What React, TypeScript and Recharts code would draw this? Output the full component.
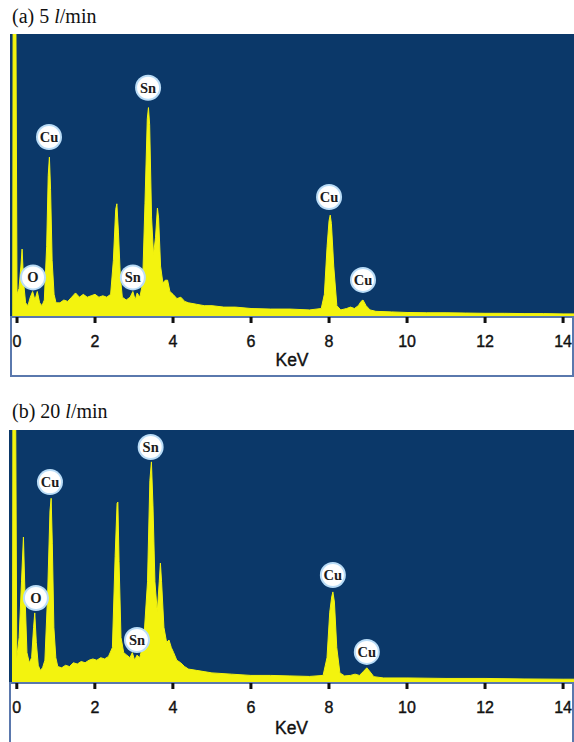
import React from "react";
import { AreaChart, Area, XAxis, YAxis, CartesianGrid, ReferenceDot } from "recharts";

const ticks = [0, 2, 4, 6, 8, 10, 12, 14];

// (a) 5 l/min spectrum, counts as % of plot height
const energyA = [
  -0.18, -0.11, -0.1, -0.03, 0.0, 0.05, 0.1, 0.13, 0.17, 0.22, 0.28, 0.34, 0.4, 0.46, 0.52, 0.58,
  0.64, 0.7, 0.76, 0.8, 0.83, 0.86, 0.9, 0.95, 1.0, 1.1, 1.2, 1.3, 1.4, 1.5, 1.6, 1.7, 1.8, 1.9,
  2.0, 2.1, 2.2, 2.3, 2.4, 2.47, 2.53, 2.56, 2.6, 2.65, 2.7, 2.8, 2.9, 2.97, 3.03, 3.08, 3.15,
  3.22, 3.28, 3.34, 3.37, 3.4, 3.45, 3.5, 3.55, 3.6, 3.63, 3.68, 3.74, 3.8, 3.86, 3.92, 4.0, 4.1,
  4.2, 4.3, 4.4, 4.6, 4.8, 5.0, 5.3, 5.6, 6.0, 6.5, 7.0, 7.5, 7.8, 7.88, 7.95, 8.0, 8.03, 8.06,
  8.12, 8.2, 8.3, 8.45, 8.55, 8.65, 8.75, 8.82, 8.87, 8.95, 9.05, 9.2, 9.6, 10, 10.5, 11, 11.5,
  12, 12.5, 13, 13.5, 14, 14.3,
];
const countsA = [
  0, 0, 110, 110, 8, 10, 18, 24, 12, 5, 4, 7, 9, 6, 9, 5,
  4, 6, 25, 50, 56.5, 45, 20, 8, 5, 5, 6, 5.5, 7, 8.5, 7, 8, 7, 7.5,
  8, 7, 7.5, 7, 8, 20, 38, 40, 30, 14, 7, 6, 7, 9, 6, 8.5, 7,
  12, 40, 70, 74, 68, 35, 22, 28, 38.5, 35, 18, 12, 13, 13, 9, 8, 6.5,
  7, 5.5, 5, 4.5, 4, 4, 3.5, 3.5, 3, 2.8, 2.8, 2.5, 3, 8, 25, 34, 36, 33,
  18, 4, 2.5, 3, 3.5, 3, 4, 5.5, 6, 4, 2.5, 2, 1.8, 1.6, 1.5, 1.5, 1.4,
  1.3, 1.3, 1.2, 1.2, 1.1, 1.1,
];

// (b) 20 l/min spectrum
const energyB = [
  -0.2, -0.11, -0.1, -0.03, 0.0, 0.06, 0.12, 0.17, 0.21, 0.26, 0.32, 0.38, 0.43, 0.46, 0.5, 0.55,
  0.6, 0.66, 0.72, 0.79, 0.85, 0.88, 0.91, 0.95, 1.0, 1.05, 1.15, 1.25, 1.35, 1.45, 1.55, 1.65,
  1.75, 1.85, 1.95, 2.05, 2.15, 2.25, 2.35, 2.45, 2.52, 2.57, 2.59, 2.62, 2.67, 2.74, 2.82, 2.9,
  2.96, 3.02, 3.08, 3.15, 3.25, 3.35, 3.41, 3.45, 3.49, 3.54, 3.6, 3.65, 3.68, 3.71, 3.77, 3.84,
  3.9, 3.96, 4.02, 4.1, 4.2, 4.3, 4.4, 4.6, 4.8, 5.0, 5.5, 6.0, 6.5, 7.0, 7.5, 7.85, 7.95, 8.02,
  8.07, 8.1, 8.14, 8.2, 8.28, 8.4, 8.55, 8.67, 8.78, 8.88, 8.97, 9.05, 9.15, 9.4, 10, 11, 12, 13,
  14, 14.3,
];
const countsB = [
  0, 0, 110, 110, 10, 18, 40, 57.7, 35, 12, 8, 10, 22, 27.7, 16, 7,
  5, 6, 9, 35, 68, 73, 55, 22, 10, 6.5, 6, 7, 6.5, 8, 7.5, 8.5,
  8, 9, 9.5, 9, 10, 9.5, 10.5, 14, 50, 71, 71.5, 48, 18, 12, 11, 10,
  12, 9, 11, 10, 16, 40, 80, 87.4, 70, 40, 28, 40, 47.4, 40, 22, 16,
  17, 14, 12, 9, 8, 6.5, 5.5, 5, 4.5, 4, 3.5, 3, 3, 2.8, 2.6, 3, 10, 28,
  34, 36, 32, 14, 4, 2.8, 3, 3.5, 3, 4.5, 6, 4.5, 2.5, 2, 2, 1.8, 1.8, 1.6,
  1.5, 1.5,
];

const labelsA = [
  { name: "O", keV: 0.41, y: 14 },
  { name: "Cu", keV: 0.82, y: 63.6 },
  { name: "Sn", keV: 2.97, y: 14 },
  { name: "Sn", keV: 3.36, y: 81 },
  { name: "Cu", keV: 8.0, y: 42.4 },
  { name: "Cu", keV: 8.87, y: 13.1 },
];
const labelsB = [
  { name: "O", keV: 0.49, y: 33.6 },
  { name: "Cu", keV: 0.85, y: 79.4 },
  { name: "Sn", keV: 3.08, y: 17 },
  { name: "Sn", keV: 3.43, y: 93.3 },
  { name: "Cu", keV: 8.1, y: 42.7 },
  { name: "Cu", keV: 8.97, y: 12.3 },
];

const toRows = (e: number[], c: number[]) => e.map((keV, i) => ({ keV, counts: c[i] }));
const dataA = toRows(energyA, countsA);
const dataB = toRows(energyB, countsB);

const BLUE = "#0b3869";
const YELLOW = "#f3f30e";
const FRAME = "#5a78ad";
const SANS = "Liberation Sans, Arial, sans-serif";

function Badge({ cx, cy, text }: { cx: number; cy: number; text: string }) {
  return (
    <g>
      <circle cx={cx} cy={cy} r={13} fill="#b9dcf7" />
      <circle cx={cx} cy={cy} r={11} fill="#ffffff" />
      <text
        x={cx}
        y={cy + 5}
        textAnchor="middle"
        fontFamily="Liberation Serif, serif"
        fontWeight="bold"
        fontSize={14.5}
        fill="#1c1c1c"
      >
        {text}
      </text>
    </g>
  );
}

function Spectrum({
  data,
  labels,
  width,
  height,
  axisHeight,
  xMin,
  keVOffset,
}: {
  data: { keV: number; counts: number }[];
  labels: { name: string; keV: number; y: number }[];
  width: number;
  height: number;
  axisHeight: number;
  xMin: number;
  keVOffset: number;
}) {
  return (
    <AreaChart width={width} height={height} data={data} margin={{ top: 0, right: 0, bottom: 0, left: 0 }}>
      <CartesianGrid fill={BLUE} stroke="none" horizontal={false} vertical={false} />
      <XAxis
        dataKey="keV"
        type="number"
        domain={[xMin, 14.28]}
        allowDataOverflow
        ticks={ticks}
        interval={0}
        height={axisHeight}
        tickSize={6}
        tickMargin={13}
        tickLine={{ stroke: "#111", strokeWidth: 3 }}
        axisLine={{ stroke: FRAME, strokeWidth: 2 }}
        tick={{ fill: "#111", stroke: "#111", strokeWidth: 0.4, fontSize: 16, fontFamily: SANS }}
        label={{
          value: "KeV",
          position: "insideBottom",
          offset: keVOffset,
          fill: "#111",
          stroke: "#111",
          strokeWidth: 0.4,
          fontSize: 17.5,
          fontFamily: SANS,
        }}
      />
      <YAxis hide domain={[0, 100]} allowDataOverflow />
      <Area
        type="linear"
        dataKey="counts"
        stroke={YELLOW}
        strokeWidth={1}
        fill={YELLOW}
        fillOpacity={1}
        dot={false}
        activeDot={false}
        isAnimationActive={false}
      />
      {labels.map((l, i) => (
        <ReferenceDot
          key={i}
          x={l.keV}
          y={l.y}
          r={12}
          shape={(p: any) => <Badge cx={p.cx} cy={p.cy} text={l.name} />}
        />
      ))}
    </AreaChart>
  );
}

const titleStyle: React.CSSProperties = {
  position: "absolute",
  left: 12,
  fontFamily: "Liberation Serif, 'Times New Roman', serif",
  fontSize: 20,
  lineHeight: "24px",
  color: "#111",
};

export default function App() {
  return (
    <div style={{ position: "absolute", left: 0, top: 0, width: 574, height: 742, background: "#fff", overflow: "hidden" }}>
      <div style={{ ...titleStyle, top: 4 }}>
        (a) 5 <i>l</i>/min
      </div>
      <div style={{ position: "absolute", left: 10, top: 34 }}>
        <Spectrum data={dataA} labels={labelsA} width={564} height={343} axisHeight={60} xMin={-0.18} keVOffset={11} />
      </div>
      <div
        style={{
          position: "absolute",
          left: 10,
          top: 317,
          width: 564,
          height: 60,
          boxSizing: "border-box",
          border: `2px solid ${FRAME}`,
          borderTop: "none",
          pointerEvents: "none",
        }}
      />

      <div style={{ ...titleStyle, top: 399 }}>
        (b) 20 <i>l</i>/min
      </div>
      <div style={{ position: "absolute", left: 9, top: 430 }}>
        <Spectrum data={dataB} labels={labelsB} width={565} height={312} axisHeight={59} xMin={-0.2} keVOffset={8} />
      </div>
      <div
        style={{
          position: "absolute",
          left: 9,
          top: 683,
          width: 565,
          height: 59,
          boxSizing: "border-box",
          borderLeft: `2px solid ${FRAME}`,
          borderRight: `2px solid ${FRAME}`,
          pointerEvents: "none",
        }}
      />
    </div>
  );
}
